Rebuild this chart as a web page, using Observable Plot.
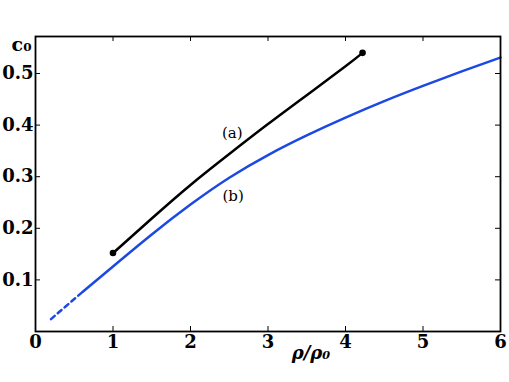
<!DOCTYPE html>
<html><head><meta charset="utf-8">
<script src="https://cdn.jsdelivr.net/npm/d3@7"></script>
<script src="https://cdn.jsdelivr.net/npm/@observablehq/plot@0.6"></script>
<style>body{margin:0;background:#fff} #chart svg{display:block}</style>
</head><body><div id="chart"></div>
<script>
// Curve (a): black, with end points
const curveA_x = [1.0, 1.5, 2.0, 2.5, 3.0, 3.5, 4.0, 4.22];
const curveA_y = [0.152, 0.219, 0.284, 0.344, 0.402, 0.458, 0.514, 0.540];
// Curve (b): blue, dashed part then solid part
const curveBdash_x = [0.2, 0.4, 0.61];
const curveBdash_y = [0.024, 0.050, 0.077];
const curveB_x = [0.61, 1.0, 1.5, 2.0, 2.5, 3.0, 3.5, 4.0, 4.5, 5.0, 5.5, 6.0];
const curveB_y = [0.077, 0.126, 0.188, 0.246, 0.298, 0.342, 0.380, 0.4145, 0.4465, 0.476, 0.504, 0.531];
// Annotation labels
const labelText = ["(a)", "(b)"];
const labelX = [2.54, 2.55];
const labelY = [0.385, 0.262];
// Ticks
const xTicks = [0, 1, 2, 3, 4, 5, 6];
const yTicks = [0.1, 0.2, 0.3, 0.4, 0.5];

const W = 509, H = 382, mL = 35, mR = 9, mT = 36, mB = 51;
const fw = W - mL - mR, fh = H - mT - mB;
const zip = (xs, ys) => xs.map((x, i) => ({x, y: ys[i]}));
const A = zip(curveA_x, curveA_y);
const Bd = zip(curveBdash_x, curveBdash_y);
const Bs = zip(curveB_x, curveB_y);
const ends = [A[0], A[A.length - 1]];
const labels = labelText.map((t, i) => ({t, x: labelX[i], y: labelY[i]}));
const blue = "#1c49e2";

const chart = Plot.plot({
  width: W, height: H,
  marginLeft: mL, marginRight: mR, marginTop: mT, marginBottom: mB,
  style: {fontFamily: "DejaVu Serif", fontSize: "18px", fontWeight: "bold", background: "#fff", color: "#000"},
  x: {domain: [0, 6]},
  y: {domain: [0, 0.5717]},
  marks: [
    Plot.line(Bd, {x: "x", y: "y", stroke: blue, strokeWidth: 2.5, strokeDasharray: "5,4", curve: "natural"}),
    Plot.line(Bs, {x: "x", y: "y", stroke: blue, strokeWidth: 2.5, curve: "natural"}),
    Plot.line(A, {x: "x", y: "y", stroke: "#000", strokeWidth: 2.5, curve: "natural"}),
    Plot.dot(ends, {x: "x", y: "y", r: 3.3, fill: "#000", stroke: "none"}),
    Plot.text(labels, {x: "x", y: "y", text: "t", fontSize: 15, fontWeight: "normal"}),
    Plot.tickX(xTicks, {x: d => d, insetTop: fh - 5, strokeWidth: 1}),
    Plot.tickX(xTicks, {x: d => d, insetBottom: fh - 5, strokeWidth: 1}),
    Plot.tickY(yTicks, {y: d => d, insetRight: fw - 5, strokeWidth: 1}),
    Plot.tickY(yTicks, {y: d => d, insetLeft: fw - 5, strokeWidth: 1}),
    Plot.frame({stroke: "#000", strokeWidth: 1.8}),
    Plot.axisX({ticks: xTicks, tickSize: 0, tickPadding: 4, tickFormat: d => String(d), label: null}),
    Plot.axisY({ticks: yTicks, tickSize: 0, tickPadding: 2, tickFormat: d => d.toFixed(1), label: null}),
    Plot.text(["c₀"], {frameAnchor: "top-left", dx: -4, dy: 1, textAnchor: "end", fontSize: 19}),
    Plot.text(["ρ/ρ₀"], {frameAnchor: "bottom", dx: 43, dy: 27, fontStyle: "italic", fontSize: 18})
  ]
});
document.getElementById("chart").appendChild(chart);
</script>
</body></html>
